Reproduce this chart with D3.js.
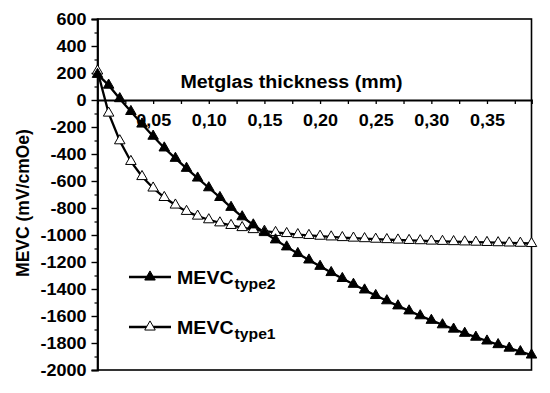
<!DOCTYPE html>
<html><head><meta charset="utf-8">
<script src="https://cdn.jsdelivr.net/npm/d3@7"></script>
<style>
html,body{margin:0;padding:0;background:#fff;}
svg{display:block;font-family:"Liberation Sans",Arial,sans-serif;font-weight:bold;}
</style></head>
<body>
<svg id="c" width="550" height="393"></svg>
<script>
const thickness = [0,0.01,0.02,0.03,0.04,0.05,0.06,0.07,0.08,0.09,0.10,0.11,0.12,0.13,0.14,0.15,0.16,0.17,0.18,0.19,
  0.20,0.21,0.22,0.23,0.24,0.25,0.26,0.27,0.28,0.29,0.30,0.31,0.32,0.33,0.34,0.35,0.36,0.37,0.38,0.39];
const mevcType1 = [215,-97,-302,-455,-567,-652,-722,-778,-825,-860,-887,-910,-929,-945,-960,-972,-981,-989,-997,-1003,
  -1009,-1014,-1019,-1023,-1027,-1031,-1034,-1037,-1040,-1042,-1045,-1047,-1049,-1051,-1053,-1055,-1057,-1059,-1061,-1063];
const mevcType2 = [190,110,10,-85,-178,-268,-355,-432,-506,-578,-650,-722,-795,-865,-925,-982,-1036,-1088,-1137,-1185,
  -1232,-1278,-1322,-1365,-1407,-1448,-1487,-1525,-1562,-1598,-1632,-1665,-1697,-1728,-1757,-1785,-1812,-1838,-1864,-1889];
const yTicks = [600,400,200,0,-200,-400,-600,-800,-1000,-1200,-1400,-1600,-1800,-2000];
const yMinor = [500,300,100,-100,-300,-500,-700,-900,-1100,-1300,-1500,-1700,-1900];
const xTicks = [0.05,0.10,0.15,0.20,0.25,0.30,0.35];
const xTickLabels = ["0,05","0,10","0,15","0,20","0,25","0,30","0,35"];
const xMinor = [0.025,0.075,0.125,0.175,0.225,0.275,0.325,0.375];

const L=97.5, R=531.5, T=19, B=370;
const svg = d3.select("#c");
const x = d3.scaleLinear().domain([0,0.39]).range([L,R]);
const y = d3.scaleLinear().domain([-2000,600]).range([B,T]);
const SX = 1.12;
function stretch(sel,k){ sel.each(function(){ const w=this.getComputedTextLength(); this.setAttribute("textLength", w*k); this.setAttribute("lengthAdjust","spacingAndGlyphs"); }); }

// frame
svg.append("rect").attr("x",L).attr("y",T).attr("width",R-L).attr("height",B-T)
  .attr("fill","none").attr("stroke","#000").attr("stroke-width",1.6);

// y axis
const ya = svg.append("g").attr("transform",`translate(${L},0)`)
  .call(d3.axisLeft(y).tickValues(yTicks).tickSize(6).tickPadding(5).tickFormat(d=>String(d)));
ya.select(".domain").attr("stroke-width",1.8);
ya.selectAll(".tick line").attr("stroke-width",1.4);
ya.selectAll("text").attr("font-size",16.5).attr("font-family","Liberation Sans, Arial").attr("font-weight","bold").attr("fill","#000");
stretch(ya.selectAll("text"),1.09);
svg.append("g").attr("transform",`translate(${L},0)`)
  .call(d3.axisLeft(y).tickValues(yMinor).tickSize(3).tickFormat(""))
  .call(g=>g.select(".domain").remove()).selectAll("line").attr("stroke-width",1.2);

// x axis at y=0
const xa = svg.append("g").attr("transform",`translate(0,${y(0)})`)
  .call(d3.axisBottom(x).tickValues(xTicks).tickSize(4).tickPadding(10).tickFormat((d,i)=>xTickLabels[i]));
xa.select(".domain").attr("stroke-width",1.8);
xa.selectAll(".tick line").attr("stroke-width",1.3);
xa.selectAll("text").attr("font-size",16.5).attr("font-family","Liberation Sans, Arial").attr("font-weight","bold").attr("fill","#000");
stretch(xa.selectAll("text"),1.09);
svg.append("g").attr("transform",`translate(0,${y(0)})`)
  .call(d3.axisBottom(x).tickValues(xMinor).tickSize(4).tickFormat(""))
  .call(g=>g.select(".domain").remove()).selectAll("line").attr("stroke-width",1.3);

// titles
const xt = svg.append("text").attr("x",(180+403)/2).attr("y",88).attr("text-anchor","middle")
  .attr("font-size",17.5).text("Metglas thickness (mm)");
stretch(xt,SX);
svg.append("text").attr("transform","translate(29,203) rotate(-90)").attr("text-anchor","middle")
  .attr("font-size",17.5).text("MEVC (mV/cmOe)");

// curves
const line = d3.line().x((d,i)=>x(thickness[i])).y(d=>y(d));
svg.append("path").datum(mevcType1).attr("d",line).attr("fill","none").attr("stroke","#000").attr("stroke-width",2.3);
svg.append("path").datum(mevcType2).attr("d",line).attr("fill","none").attr("stroke","#000").attr("stroke-width",2.3);
const tri = d3.symbol().type(d3.symbolTriangle).size(48);
svg.append("g").selectAll("path").data(mevcType1).join("path")
  .attr("transform",(d,i)=>`translate(${x(thickness[i])},${y(d)})`).attr("d",tri)
  .attr("fill","#fff").attr("stroke","#000").attr("stroke-width",1);
svg.append("g").selectAll("path").data(mevcType2).join("path")
  .attr("transform",(d,i)=>`translate(${x(thickness[i])},${y(d)})`).attr("d",tri)
  .attr("fill","#000").attr("stroke","#000").attr("stroke-width",1);

// legend
const legend = [{name:"type2", fill:"#000", y:277},{name:"type1", fill:"#fff", y:327}];
legend.forEach(l=>{
  svg.append("line").attr("x1",129).attr("x2",171).attr("y1",l.y).attr("y2",l.y).attr("stroke","#000").attr("stroke-width",2.3);
  svg.append("path").attr("transform",`translate(150,${l.y})`).attr("d",tri).attr("fill",l.fill).attr("stroke","#000").attr("stroke-width",1);
  const t = svg.append("text").attr("x",177).attr("y",l.y+7).attr("font-size",17.5).text("MEVC");
  stretch(t,SX);
  const w = +t.attr("textLength");
  const s = svg.append("text").attr("x",177+w+1).attr("y",l.y+12).attr("font-size",14).text(l.name);
  stretch(s,SX);
});
</script>
</body></html>
